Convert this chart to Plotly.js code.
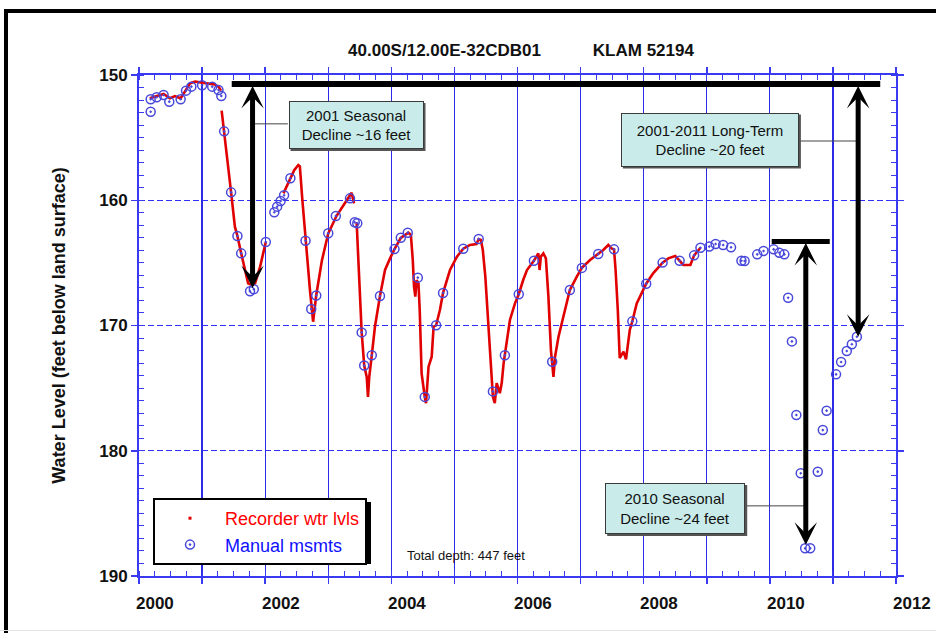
<!DOCTYPE html>
<html>
<head>
<meta charset="utf-8">
<script src="https://cdn.plot.ly/plotly-3.0.1.min.js"></script>
<style>
  body { margin: 0; background: #fff; }
  #wrap { position: relative; width: 936px; height: 633px; overflow: hidden; }
  #chart { width: 936px; height: 633px; }
  #frame { position: absolute; left: 4px; top: 9px; width: 960px; height: 660px;
           border-left: 4px solid #000; border-top: 4px solid #000; pointer-events: none; }
  #bottomline { position: absolute; left: 0; top: 630px; width: 936px; height: 1px; background: #e2e2e2; }
</style>
</head>
<body>
<div id="wrap">
  <div id="chart"></div>
  <div id="frame"></div>
  <div id="bottomline"></div>
</div>
<script>
// ---------- DATA (decimal years, feet below land surface) ----------
const recorderYear = [
  1999.92, 2000.03, 2000.14, 2000.24, 2000.32, 2000.41, 2000.48, 2000.56, 2000.64, 2000.74, 2000.82, 2000.95, 2001.01, 2001.05,
  null,
  2001.06, 2001.10, 2001.17, 2001.21, 2001.27, 2001.31, 2001.37, 2001.43, 2001.48, 2001.54, 2001.59, 2001.67, 2001.76,
  null,
  2002.04, 2002.09, 2002.14, 2002.21, 2002.275, 2002.30, 2002.34, 2002.39, 2002.46, 2002.51, 2002.56, 2002.65, 2002.75, 2002.88, 2002.99, 2003.05, 2003.12, 2003.16,
  null,
  2003.20, 2003.28, 2003.32, 2003.36, 2003.38, 2003.40, 2003.44, 2003.49, 2003.57, 2003.65, 2003.73, 2003.80, 2003.90, 2003.97,
  2004.02, 2004.06, 2004.09, 2004.11, 2004.13, 2004.15, 2004.18, 2004.20, 2004.23, 2004.28, 2004.30, 2004.34, 2004.39, 2004.42,
  2004.46, 2004.52, 2004.57, 2004.68, 2004.79, 2004.89, 2004.997, 2005.10, 2005.135, 2005.17, 2005.20, 2005.24, 2005.29, 2005.34,
  2005.36, 2005.39, 2005.42, 2005.47, 2005.50, 2005.53, 2005.55, 2005.63, 2005.71, 2005.77, 2005.84, 2005.90, 2006.01, 2006.08,
  2006.10, 2006.12, 2006.16, 2006.20, 2006.24, 2006.28, 2006.32, 2006.345, 2006.40, 2006.48, 2006.58, 2006.69, 2006.77, 2006.90,
  2007.03, 2007.11, 2007.19, 2007.24, 2007.28, 2007.305, 2007.34, 2007.37, 2007.43, 2007.47, 2007.53, 2007.57, 2007.64, 2007.79,
  2007.90, 2008.05, 2008.14, 2008.25, 2008.32, 2008.38, 2008.49, 2008.55, 2008.65
];
const recorderLevel = [
  151.86, 151.68, 151.52, 151.86, 151.68, 151.86, 151.25, 150.67, 150.53, 150.61, 150.67, 150.75, 150.93, 151.25,
  null,
  152.85, 154.5, 157.32, 159.37, 162.11, 162.85, 164.24, 165.57, 166.63, 166.77, 166.63, 165.3, 163.33,
  null,
  159.45, 158.9, 158.25, 157.6, 157.19, 157.3, 160.0, 163.17, 167.17, 169.7, 167.56, 164.8, 162.64, 161.26, 160.38, 159.9, 159.4, 160.25,
  null,
  161.76, 170.55, 173.2, 174.1, 175.7, 174.1, 172.38, 170.1, 167.65, 165.57, 164.64, 163.9, 163.0, 162.77,
  162.59, 162.77, 164.77, 166.9, 167.7, 166.37, 166.63, 168.76, 173.82, 175.7, 176.2, 173.29, 172.49, 170.1,
  169.98, 168.76, 167.4, 165.57, 164.5, 163.87, 163.57, 163.49, 163.1, 163.17, 163.97, 166.1, 170.36, 174.1,
  175.7, 176.2, 174.6, 175.4, 174.6, 173.0, 172.38, 169.56, 168.23, 167.5, 166.37, 165.57, 164.83, 164.24,
  165.57, 164.5, 164.24, 164.64, 167.7, 171.96, 174.1, 172.49, 170.9, 169.3, 167.17, 166.1, 165.4, 164.77,
  164.29, 163.97, 163.57, 163.84, 163.92, 165.57, 168.76, 172.6, 172.09, 172.7, 170.36, 169.67, 168.23, 166.66,
  165.83, 164.98, 164.64, 164.45, 164.83, 165.17, 165.17, 164.4, 163.79
];

const manualYear = [
  1999.935, 1999.935, 2000.03, 2000.14, 2000.23, 2000.41, 2000.495, 2000.58, 2000.75, 2000.91, 2001.01, 2001.055,
  2001.10, 2001.21, 2001.31, 2001.37, 2001.51, 2001.57, 2001.76, 2001.895, 2001.94, 2001.995, 2002.05, 2002.15,
  2002.39, 2002.48, 2002.56, 2002.75, 2002.87, 2003.095, 2003.17, 2003.21, 2003.28, 2003.32, 2003.44, 2003.57,
  2003.80, 2003.90, 2004.01, 2004.17, 2004.28, 2004.46, 2004.57, 2004.89, 2005.135, 2005.36, 2005.55, 2005.77,
  2006.01, 2006.30, 2006.58, 2006.77, 2007.03, 2007.28, 2007.57, 2007.79, 2008.05, 2008.32, 2008.55, 2008.65,
  2008.79, 2008.89, 2009.01, 2009.135, 2009.30, 2009.35, 2009.55, 2009.65, 2009.81, 2009.90, 2009.98, 2010.04,
  2010.10, 2010.17, 2010.24, 2010.31, 2010.39, 2010.51, 2010.59, 2010.65, 2010.80, 2010.88, 2010.97, 2011.05, 2011.13
];
const manualLevel = [
  152.93, 151.94, 151.78, 151.6, 152.13, 151.94, 151.25, 150.93, 150.82, 150.93, 151.2, 151.68,
  154.5, 159.37, 162.85, 164.24, 167.27, 167.11, 163.33, 160.96, 160.51, 160.06, 159.6, 158.25,
  163.23, 168.68, 167.6, 162.64, 161.26, 159.85, 161.76, 161.84, 170.55, 173.2, 172.38, 167.65,
  163.9, 163.0, 162.6, 166.18, 175.7, 169.98, 167.4, 163.87, 163.1, 175.26, 172.38, 167.5,
  164.83, 172.9, 167.17, 165.4, 164.29, 163.92, 169.67, 166.66, 164.98, 164.83, 164.4, 163.79,
  163.7, 163.49, 163.57, 163.76, 164.83, 164.85, 164.32, 164.05, 163.92, 164.19, 164.32, 167.78,
  171.27, 177.15, 181.8, 187.79, 187.79, 181.67, 178.35, 176.8, 173.9, 172.91, 172.04, 171.5, 170.9
];

// axis ticks: water-year boundaries (Oct 1) carry grid lines; labels sit at calendar years
const xRange = [1999.75, 2011.75];
const xGridVals = [1999.75, 2000.75, 2001.75, 2002.75, 2003.75, 2004.75, 2005.75, 2006.75, 2007.75, 2008.75, 2009.75, 2010.75, 2011.75];
const xLabelVals = [2000, 2002, 2004, 2006, 2008, 2010, 2012];
const xLabelText = ['2000', '2002', '2004', '2006', '2008', '2010', '2012'];
const yRange = [190, 150];
const yTickVals = [150, 160, 170, 180, 190];

// annotation content
const boxTexts = ['2001 Seasonal<br>Decline ~16 feet', '2001-2011 Long-Term<br>Decline ~20 feet', '2010 Seasonal<br>Decline ~24 feet'];
const boxYear = [2003.19, 2008.80, 2008.25];
const boxLevel = [153.99, 155.15, 184.61];
const boxW = [131, 174, 136];
const boxH = [44, 50, 47];
// double arrows: year, top level, bottom level
const arrowYear = [2001.55, 2011.15, 2010.32];
const arrowTop = [150.75, 150.75, 163.3];
const arrowBottom = [167.0, 170.9, 187.5];
// horizontal reference bars
const barY = [150.72, 163.3];
const barX0 = [2001.22, 2009.78];
const barX1 = [2011.50, 2010.70];
const barW = [6, 5];
// connectors from boxes to arrows
const connY = [153.9, 155.27, 184.4];
const connX0 = [2001.55, 2010.21, 2009.34];
const connX1 = [2002.11, 2011.15, 2010.32];

// ---------- LAYOUT CONSTANTS ----------
const W = 936, H = 633;
const M = {l: 139, r: 40, t: 75, b: 57};
const plotW = W - M.l - M.r;
const FONT = 'Arial, "Liberation Sans", Helvetica, sans-serif';
const BLUE = '#2b2be6';
const AXBLUE = '#3a3af2';

const traces = [
  {
    x: recorderYear, y: recorderLevel, type: 'scatter', mode: 'lines',
    line: {color: '#e00000', width: 2.6}, connectgaps: false, showlegend: false, hoverinfo: 'skip'
  },
  {
    x: [null], y: [null], type: 'scatter', mode: 'markers',
    name: '<span style="color:#ff0000">Recorder wtr lvls</span>',
    marker: {symbol: 'square', size: 3, color: '#e00000'}
  },
  {
    x: manualYear, y: manualLevel, type: 'scatter', mode: 'markers',
    name: '<span style="color:#1010ff">Manual msmts</span>',
    marker: {symbol: 'circle-open-dot', size: 9, color: '#4848da', line: {width: 1.5, color: '#4848da'}}
  }
];

const annotations = [];
// calendar-year tick labels, placed along the x axis scale (2012 lies past the axis end)
xLabelVals.forEach((v, i) => {
  annotations.push({
    xref: 'paper', yref: 'paper', x: (v - xRange[0]) / (xRange[1] - xRange[0]), y: 0,
    yshift: -27, xanchor: 'center', yanchor: 'middle', showarrow: false, text: xLabelText[i],
    font: {family: FONT, size: 17, weight: 'bold', color: '#111'}
  });
});
boxTexts.forEach((t, i) => {
  annotations.push({
    xref: 'x', yref: 'y', x: boxYear[i], y: boxLevel[i], text: t, showarrow: false,
    width: boxW[i], height: boxH[i], bgcolor: '#c9ecea', bordercolor: '#3a3a3a', borderwidth: 1, borderpad: 1,
    font: {family: FONT, size: 15, color: '#111'}, align: 'center', xanchor: 'center', yanchor: 'middle'
  });
});
arrowYear.forEach((xv, i) => {
  annotations.push({
    xref: 'x', yref: 'y', axref: 'x', ayref: 'y',
    x: xv, y: arrowBottom[i], ax: xv, ay: arrowTop[i], text: '',
    showarrow: true, arrowside: 'end+start', arrowhead: 3, startarrowhead: 3,
    arrowsize: 0.75, startarrowsize: 0.75, arrowwidth: 5, arrowcolor: '#000', standoff: 0, startstandoff: 0
  });
});
annotations.push({
  xref: 'x', yref: 'y', x: 2004.93, y: 188.4, text: 'Total depth: 447 feet', showarrow: false,
  font: {family: FONT, size: 13, color: '#111'}, xanchor: 'center', yanchor: 'middle'
});

const shapes = [];
barY.forEach((yv, i) => {
  shapes.push({type: 'line', xref: 'x', yref: 'y', x0: barX0[i], x1: barX1[i], y0: yv, y1: yv,
               line: {color: '#000', width: barW[i]}, layer: 'above'});
});
connY.forEach((yv, i) => {
  shapes.push({type: 'line', xref: 'x', yref: 'y', x0: connX0[i], x1: connX1[i], y0: yv, y1: yv,
               line: {color: '#444', width: 1}, layer: 'above'});
});
// box shadows
boxTexts.forEach((t, i) => {
  const hw = boxW[i] / 2 + 2, hh = boxH[i] / 2 + 2;
  shapes.push({type: 'rect', xref: 'x', yref: 'y', xsizemode: 'pixel', ysizemode: 'pixel',
               xanchor: boxYear[i], yanchor: boxLevel[i],
               x0: -hw + 2, x1: hw + 2, y0: -hh - 2, y1: hh - 2,
               fillcolor: '#555', line: {width: 0}, layer: 'above'});
});
// legend shadow
const legX = (153 - M.l) / plotW, legY = (576 - 498) / (H - M.t - M.b);
const legW = 214, legH = 62;
shapes.push({type: 'rect', xref: 'paper', yref: 'paper', xsizemode: 'pixel', ysizemode: 'pixel',
             xanchor: legX, yanchor: legY, x0: 4, x1: legW + 4, y0: -legH - 4, y1: -4,
             fillcolor: '#000', line: {width: 0}, layer: 'above'});

const layout = {
  width: W, height: H, margin: M,
  paper_bgcolor: '#fff', plot_bgcolor: '#fff',
  font: {family: FONT, color: '#111'},
  title: {
    text: '40.00S/12.00E-32CDB01' + '\u00a0'.repeat(11) + 'KLAM 52194',
    font: {family: FONT, size: 17, weight: 'bold', color: '#111'},
    x: (521 - M.l) / plotW, xref: 'paper', xanchor: 'center',
    y: 1 - 50 / H, yref: 'container', yanchor: 'middle'
  },
  xaxis: {
    range: xRange, tickmode: 'array', tickvals: xGridVals, showticklabels: false,
    ticks: 'outside', ticklen: 6, tickwidth: 1.5, tickcolor: AXBLUE,
    showline: true, linecolor: AXBLUE, linewidth: 2, mirror: 'ticks',
    showgrid: true, gridcolor: BLUE, gridwidth: 1.2, zeroline: false,
    minor: {tick0: 1999.75, dtick: 0.25, ticks: 'inside', ticklen: 5, tickwidth: 1, tickcolor: AXBLUE, showgrid: false}
  },
  yaxis: {
    range: yRange, tickmode: 'array', tickvals: yTickVals,
    ticks: 'outside', ticklen: 6, tickwidth: 1.5, tickcolor: AXBLUE,
    tickfont: {family: FONT, size: 17, weight: 'bold', color: '#111'},
    showline: true, linecolor: AXBLUE, linewidth: 2, mirror: 'ticks',
    showgrid: true, gridcolor: '#2f2fff', gridwidth: 1.2, griddash: '6px,3px', zeroline: false,
    minor: {tick0: 150, dtick: 1, ticks: 'inside', ticklen: 5, tickwidth: 1, tickcolor: AXBLUE, showgrid: false},
    title: {text: 'Water Level (feet below land surface)', standoff: 29,
            font: {family: FONT, size: 18, weight: 'bold', color: '#111'}}
  },
  showlegend: true,
  legend: {
    x: legX, y: legY, xanchor: 'left', yanchor: 'top',
    bgcolor: '#fff', bordercolor: '#000', borderwidth: 2,
    font: {family: FONT, size: 18}, itemwidth: 60, tracegroupgap: 0, itemsizing: 'trace'
  },
  annotations: annotations,
  shapes: shapes
};

Plotly.newPlot('chart', traces, layout, {displayModeBar: false, staticPlot: true});
</script>
</body>
</html>
